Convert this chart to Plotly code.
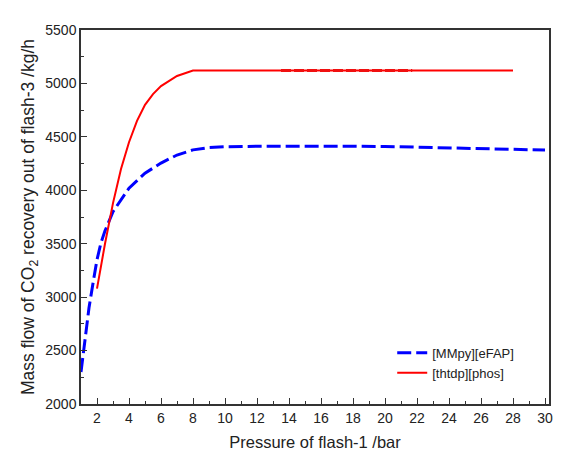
import plotly.graph_objects as go

blue_x = [1, 1.25, 1.5, 1.75, 2, 2.25, 2.5, 3, 3.5, 4, 5, 6, 7, 8, 9, 10, 12, 14, 16, 18, 20, 22, 24, 26, 28, 30]
blue_y = [2300, 2620, 2900, 3130, 3350, 3510, 3620, 3800, 3910, 4020, 4160, 4255, 4330, 4378, 4400, 4408, 4412, 4414, 4414, 4412, 4410, 4405, 4398, 4390, 4383, 4377]

red_x = [2, 2.5, 3, 3.5, 4, 4.5, 5, 5.5, 6, 7, 8, 10, 12, 14, 16, 18, 20, 22, 24, 26, 28]
red_y = [3080, 3500, 3880, 4200, 4450, 4650, 4800, 4900, 4975, 5070, 5120, 5120, 5120, 5120, 5120, 5120, 5120, 5120, 5120, 5120, 5120]

red_dash_x = [13.5, 21.7]
red_dash_y = [5120, 5120]

fig = go.Figure()
fig.add_trace(go.Scatter(x=blue_x, y=blue_y, mode="lines", name="[MMpy][eFAP]",
                         line=dict(color="#0000ff", width=3, dash="14px,5px")))
fig.add_trace(go.Scatter(x=red_x, y=red_y, mode="lines", name="[thtdp][phos]",
                         line=dict(color="#ff0000", width=2)))
fig.add_trace(go.Scatter(x=red_dash_x, y=red_dash_y, mode="lines", showlegend=False,
                         line=dict(color="#f01010", width=3, dash="10px,3px"), hoverinfo="skip"))

font = "Liberation Sans, Arial, sans-serif"
fig.update_layout(
    width=562, height=459,
    margin=dict(l=81, r=9, t=30, b=55),
    paper_bgcolor="white", plot_bgcolor="white",
    font=dict(family=font, color="#222222", size=13),
    showlegend=True,
    legend=dict(x=0.665, y=0.11, xanchor="left", yanchor="middle",
                bgcolor="rgba(0,0,0,0)", font=dict(size=13, family=font),
                tracegroupgap=0, itemwidth=30),
    xaxis=dict(range=[1, 30.25], tickmode="array", tickvals=list(range(2, 31, 2)),
               ticks="inside", ticklen=6, tickwidth=1, tickcolor="#333",
               showline=True, linecolor="#333", linewidth=1.5, mirror=True,
               showgrid=False, zeroline=False,
               minor=dict(tickmode="array", tickvals=list(range(1, 31, 2)), ticks="inside", ticklen=3, tickcolor="#333", showgrid=False),
               tickfont=dict(size=14),
               title=dict(text="Pressure of flash-1 /bar", font=dict(size=16.5), standoff=12)),
    yaxis=dict(range=[2000, 5500], tickmode="array", tickvals=list(range(2000, 5501, 500)),
               ticks="inside", ticklen=6, tickwidth=1, tickcolor="#333",
               showline=True, linecolor="#333", linewidth=1.5, mirror=True,
               showgrid=False, zeroline=False,
               minor=dict(tickmode="array", tickvals=list(range(2250, 5500, 500)), ticks="inside", ticklen=3, tickcolor="#333", showgrid=False),
               tickfont=dict(size=14),
               title=dict(text="Mass flow of CO<sub>2</sub> recovery out of flash-3 /kg/h", font=dict(size=17.5), standoff=6)),
)
fig.write_html("out.html")
